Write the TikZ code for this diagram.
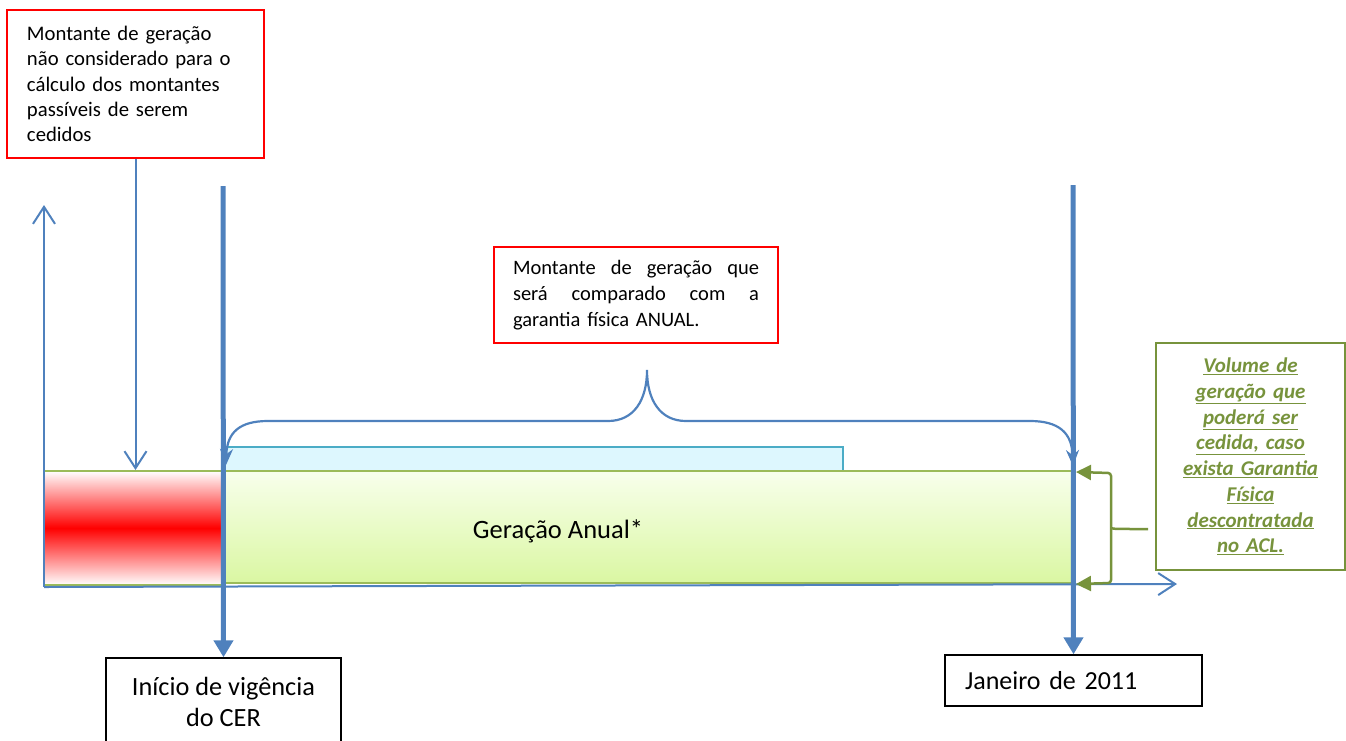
\documentclass[tikz,border=0pt]{standalone}
\usepackage{fontspec}
\setmainfont{Carlito}
\usetikzlibrary{arrows.meta}
\definecolor{bl}{HTML}{4F81BD}
\definecolor{gr}{HTML}{9BBB59}
\definecolor{dgr}{HTML}{77933C}
\definecolor{cy}{HTML}{4BACC6}
\definecolor{lcy}{HTML}{DDF7FE}
\definecolor{gtop}{HTML}{F8FFEC}
\definecolor{gbot}{HTML}{DAF7A2}
\begin{document}
\begin{tikzpicture}[x=1pt,y=-1pt,
  redbox/.style={draw=red,line width=2pt,inner ysep=0pt,fill=white},
  blackbox/.style={draw=black,line width=1.4pt,inner ysep=0pt,fill=white},
  thinax/.style={draw=bl,line width=2pt,-{Straight Barb[length=17pt,width=22pt,line width=2pt]}},
  thickax/.style={draw=bl,line width=5pt,-{Triangle[length=17pt,width=19pt]}},
  bar/.style={draw=gr,line width=2pt,inner sep=0pt}]
\useasboundingbox (0,0) rectangle (1346,740);

% bars
\node[bar,draw=cy,fill=lcy,minimum width=618pt,minimum height=24pt] (cb) at (534,459) {};
\node[bar,top color=white,bottom color=white,middle color=red,minimum width=179pt,minimum height=114pt] (rb) at (133.5,528) {};
\node[bar,top color=gtop,bottom color=gbot,minimum width=848pt,minimum height=112pt] (gb) at (649,527) {};
\node[font=\fontsize{26.5}{30}\selectfont] (ga) at (558,531) {Geração Anual*};

% axes
\coordinate (o) at (44,587);
\coordinate (ytop) at (44,205);
\coordinate (xend) at (1177,584);
\draw[thinax] (o) -- (ytop);
\draw[thinax] (o) -- (xend);

% top-left box
\node[redbox,minimum width=257pt,minimum height=148pt,text width=217pt,inner xsep=20pt,align=left,
  font=\fontsize{20.7}{25.2}\selectfont] (b1) at (135.5,84)
  {Montante de geração\\não considerado para o\\cálculo dos montantes\\passíveis de serem\\cedidos};
\draw[thinax] (b1.south) -- (b1.south |- rb.north);

% middle red box
\node[redbox,minimum width=284pt,minimum height=96pt,text width=246pt,inner xsep=19pt,align=left,
  font=\fontsize{20.5}{26}\selectfont] (b2) at (636,295)
  {Montante\hfill de\hfill geração\hfill que\\será\hfill comparado\hfill com\hfill a\\garantia física ANUAL.};

% bottom boxes
\node[blackbox,minimum width=235pt,minimum height=88pt,align=center,
  font=\fontsize{26.3}{31}\selectfont] (b3) at (223.5,702)
  {Início de vigência\\do CER};
\node[blackbox,minimum width=257pt,minimum height=51pt,text width=217pt,inner xsep=20pt,align=left,
  font=\fontsize{26}{30}\selectfont] (b4) at (1073.5,680.5)
  {Janeiro de 2011};

% thick verticals
\coordinate (t1) at (223,186);
\coordinate (t2) at (1073,185);
\draw[thickax] (t1) -- (b3.north);
\draw[thickax] (t2) -- (b4.north);

% brace
\coordinate (bl1) at (226,465);
\coordinate (br1) at (1073,466);
\draw[bl,line width=2.2pt,{Stealth[length=16pt,width=13pt]}-{Stealth[length=16pt,width=13pt]}]
  (bl1) .. controls (227,432) and (240,421) .. (268,421) -- (608,421)
  .. controls (634,421) and (647,400) .. (647,370)
  .. controls (647,400) and (660,421) .. (686,421) -- (1030,421)
  .. controls (1058,421) and (1072,432) .. (br1);

% green box
\node[draw=dgr,line width=1.8pt,fill=white,minimum width=189pt,minimum height=227pt,text width=177pt,inner xsep=6pt,align=center,text=dgr,
  font=\fontsize{21}{25.7}\selectfont\bfseries\itshape] (b5) at (1250.5,456.5)
  {\underline{Volume de}\\\underline{geração que}\\\underline{poderá ser}\\\underline{cedida, caso}\\\underline{exista Garantia}\\\underline{Física}\\\underline{descontratada}\\\underline{no ACL.}};

% green bracket
\coordinate (gt) at (1076,472);
\coordinate (gbb) at (1076,584);
\coordinate (gm) at (1111,528);
\coordinate (gtip) at (1148,529);
\draw[dgr,line width=2.5pt,{Triangle[length=15pt,width=15pt]}-{Triangle[length=15pt,width=15pt]},rounded corners=3pt]
  (gt) -- (1111,473) -- (gm) -- (1111,583) -- (gbb);
\draw[dgr,line width=2.5pt] (gm) .. controls (1114,529) .. (gtip);
\end{tikzpicture}
\end{document}
